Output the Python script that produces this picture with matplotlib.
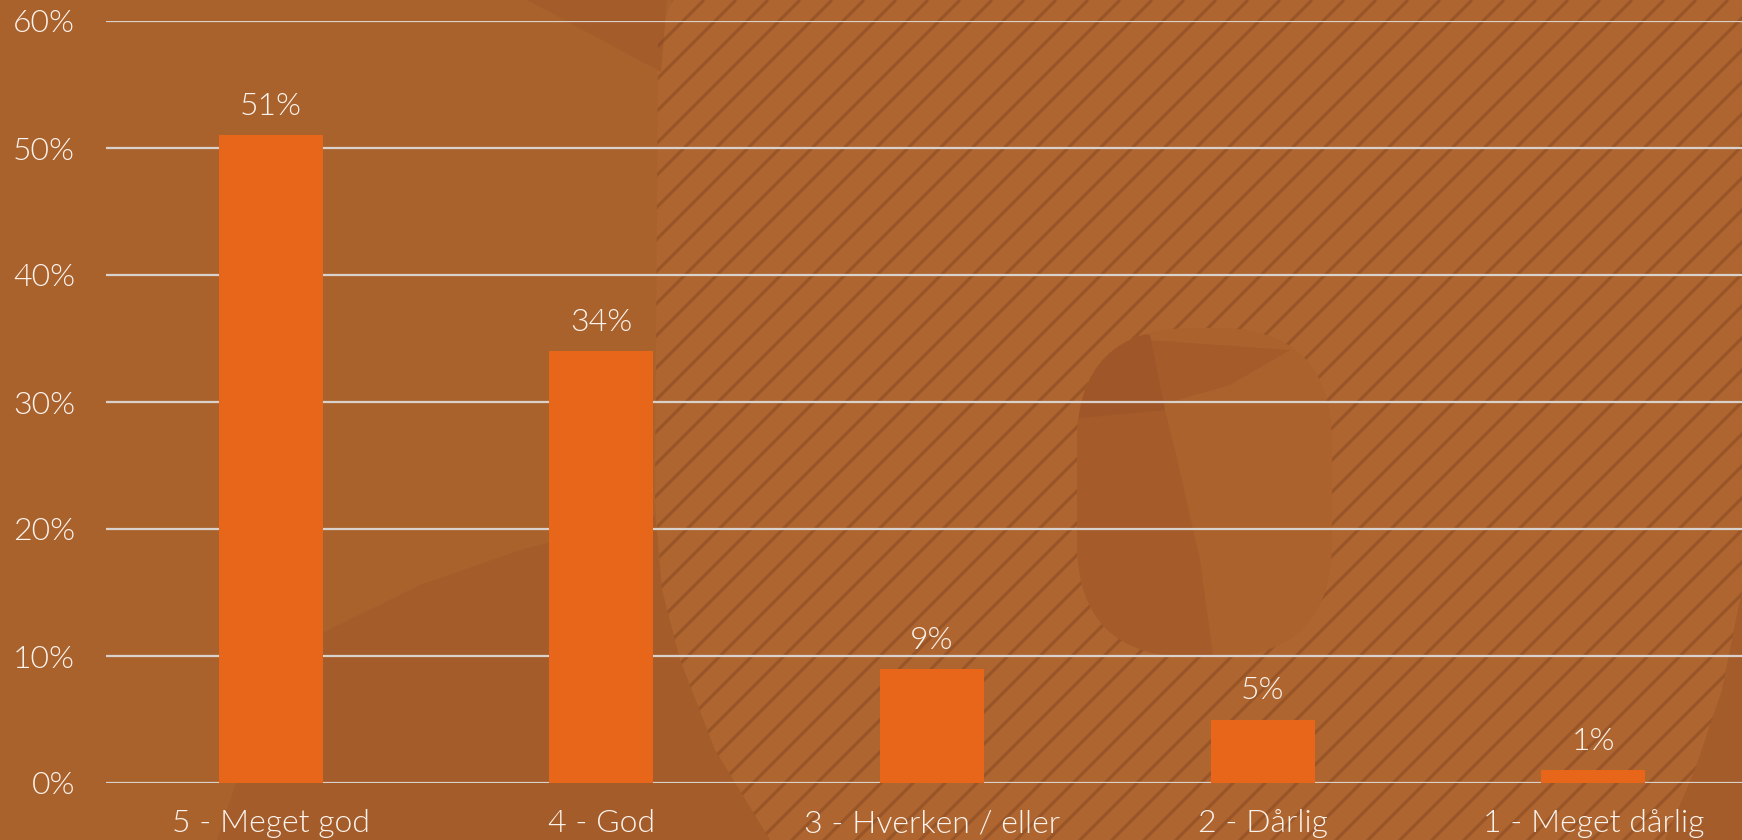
import numpy as np
import matplotlib.pyplot as plt
from matplotlib.patches import Polygon, FancyBboxPatch
from matplotlib.collections import LineCollection

categories = ["5 - Meget god", "4 - God", "3 - Hverken / eller", "2 - Dårlig", "1 - Meget dårlig"]
values = [51, 34, 9, 5, 1]
y_ticks = [0, 10, 20, 30, 40, 50, 60]

BG = "#AA622D"
BG_DARK = "#A55C2B"
HATCH_FILL = "#AF652F"
HATCH_LINE = "#7E4220"
BAR = "#E8661A"
TEXT = "#FBF4EE"
GRID = "#D9D1CB"

plt.rcParams['font.family'] = ['Lato', 'DejaVu Sans']
plt.rcParams['font.weight'] = 300

fig = plt.figure(figsize=(17.42, 8.4), dpi=100)
fig.patch.set_facecolor(BG)

# background decoration, in pixel coordinates
bg = fig.add_axes([0, 0, 1, 1], zorder=-1)
bg.set_xlim(0, 1742)
bg.set_ylim(840, 0)
bg.axis('off')

hatch_area = Polygon([(672, 0), (658, 40), (655, 500), (662, 590), (680, 660), (715, 750),
                      (770, 840), (1665, 840), (1695, 770), (1722, 690), (1742, 590), (1742, 0)],
                     closed=True, facecolor=HATCH_FILL, edgecolor='none')
bg.add_patch(hatch_area)

segs = []
for c in range(0, 1742 + 840 + 40, 32):
    segs.append([(c, 0), (c - 900, 900)])
lines = LineCollection(segs, colors=HATCH_LINE, linewidths=2.2, alpha=0.45)
bg.add_collection(lines)
lines.set_clip_path(hatch_area)

bg.add_patch(Polygon([(527, 0), (667, 0), (661, 72)], closed=True, facecolor=BG_DARK, edgecolor='none'))
bg.add_patch(Polygon([(217, 840), (250, 740), (322, 633), (420, 585), (520, 550), (655, 515),
                      (662, 590), (680, 660), (715, 750), (770, 840)],
                     closed=True, facecolor=BG_DARK, edgecolor='none'))
bg.add_patch(Polygon([(1665, 840), (1695, 770), (1722, 690), (1742, 590), (1742, 840)],
                     closed=True, facecolor=BG_DARK, edgecolor='none'))

blob = FancyBboxPatch((1077, 328), 255, 329, boxstyle="round,pad=0,rounding_size=115",
                      facecolor="#AB622D", edgecolor='none', zorder=3)
bg.add_patch(blob)
left = Polygon([(1060, 300), (1147, 340), (1175, 450), (1200, 560), (1215, 670), (1060, 670)],
               closed=True, facecolor="#A55B2A", edgecolor='none', zorder=4)
bg.add_patch(left)
left.set_clip_path(blob)
cap = Polygon([(1147, 340), (1290, 350), (1230, 385), (1160, 405)],
              closed=True, facecolor="#A55B2A", edgecolor='none', zorder=4)
bg.add_patch(cap)
cap.set_clip_path(blob)
corner = Polygon([(1060, 320), (1150, 335), (1165, 410), (1060, 420)],
                 closed=True, facecolor="#9F5729", edgecolor='none', zorder=5)
bg.add_patch(corner)
corner.set_clip_path(blob)

# chart
ax = fig.add_axes([105.5 / 1742, 57 / 840, 1 - 105.5 / 1742, 762 / 840])
ax.set_facecolor('none')
x = np.arange(len(categories))
bars = ax.bar(x, values, width=0.315, color=BAR, zorder=2)

for xi, v in zip(x, values):
    ax.annotate(f"{v}%", (xi, v), xytext=(0, 14.5), textcoords='offset points',
                ha='center', va='baseline', color=TEXT, fontsize=23, fontweight=300)

ax.set_xlim(-0.5, 4.45)
ax.set_ylim(0, 60)
ax.set_yticks(y_ticks)
ax.set_yticklabels([f"{t}%" for t in y_ticks], fontweight=300)
ax.set_xticks(x)
ax.set_xticklabels(categories, fontweight=300)
ax.tick_params(axis='y', length=0, pad=22, labelsize=23, labelcolor=TEXT)
ax.tick_params(axis='x', length=0, pad=19, labelsize=23, labelcolor=TEXT)
ax.yaxis.grid(True, color=GRID, linewidth=1.6)
ax.set_axisbelow(True)
for s in ax.spines.values():
    s.set_visible(False)

fig.savefig("out.png", dpi=100, facecolor=BG)
